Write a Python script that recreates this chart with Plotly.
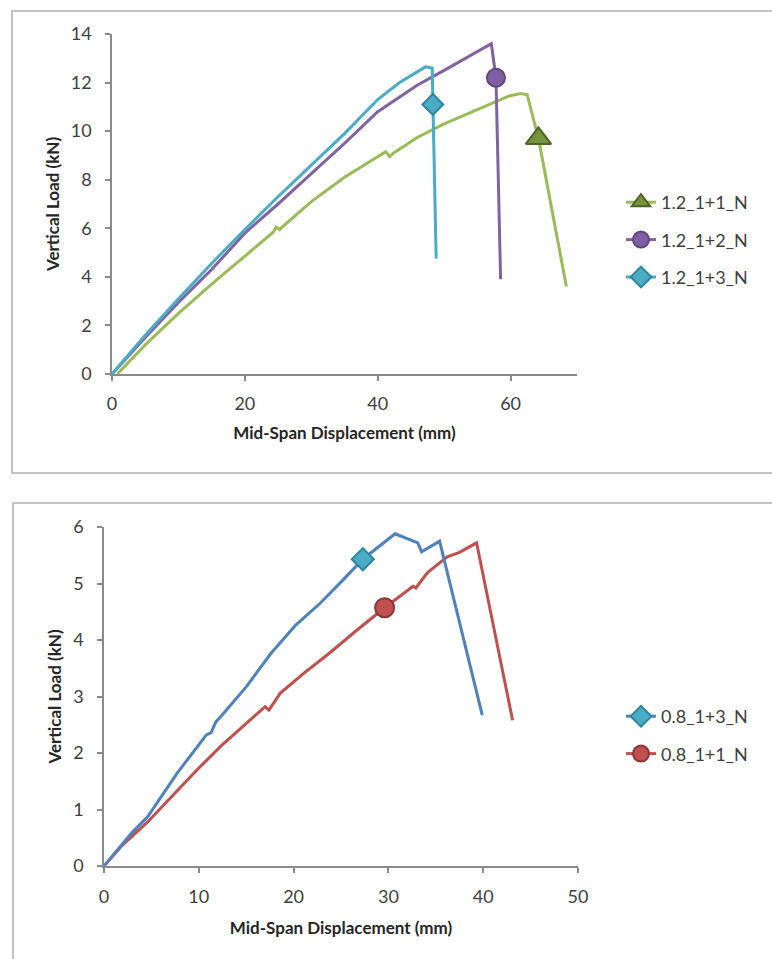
import plotly.graph_objects as go

# ---------------- Top panel data (1.2 series) ----------------
g_x = [0.8, 5, 10, 15, 20, 24.3, 24.7, 25.2, 30, 35, 41.2, 41.8, 42.4, 46, 50, 55, 59.8, 61.5, 62.5, 64.2, 68.4]
g_y = [0, 1.2, 2.5, 3.7, 4.85, 5.85, 6.05, 5.95, 7.1, 8.1, 9.15, 8.95, 9.1, 9.75, 10.3, 10.9, 11.45, 11.55, 11.5, 9.7, 3.6]
g_mark = (64.2, 9.7)

p_x = [0, 5, 10, 15, 20, 25, 30, 35, 40, 43.3, 46, 50, 54, 56, 57.1, 57.8, 58.5]
p_y = [0, 1.5, 2.95, 4.3, 5.8, 7.0, 8.25, 9.5, 10.8, 11.4, 11.9, 12.5, 13.1, 13.4, 13.6, 12.2, 3.9]
p_mark = (57.8, 12.2)

c_x = [0, 5, 10, 15, 20, 25, 30, 35, 40, 43.3, 46, 47.2, 48.2, 48.3, 48.8]
c_y = [0, 1.6, 3.1, 4.55, 5.95, 7.3, 8.6, 9.9, 11.3, 12.0, 12.45, 12.65, 12.6, 11.1, 4.75]
c_mark = (48.3, 11.1)

# ---------------- Bottom panel data (0.8 series) ----------------
b_x = [0, 1.5, 3, 4.6, 7.7, 10.8, 11.3, 11.8, 12.6, 15, 17.6, 20.2, 22.8, 25.2, 27.3, 30.7, 33.1, 33.5, 35.4, 39.9]
b_y = [0, 0.31, 0.6, 0.87, 1.64, 2.32, 2.36, 2.55, 2.7, 3.17, 3.76, 4.26, 4.65, 5.06, 5.43, 5.88, 5.72, 5.56, 5.75, 2.67]
b_mark = (27.3, 5.43)

r_x = [0, 2, 4.6, 7, 9.8, 12.5, 15, 16.6, 17.0, 17.4, 18.6, 21, 23.8, 26.5, 29.6, 32.6, 32.9, 34.1, 36.2, 37.5, 39.3, 43.1]
r_y = [0, 0.38, 0.78, 1.2, 1.7, 2.15, 2.52, 2.76, 2.82, 2.76, 3.06, 3.4, 3.77, 4.15, 4.57, 4.95, 4.92, 5.19, 5.47, 5.55, 5.72, 2.58]
r_mark = (29.6, 4.57)

W, H = 772, 959
FONT = "Lato"
TICK_COLOR = "#404040"
AXIS_COLOR = "#8a8a8a"

fig = go.Figure()


def add_series(xs, ys, mark, name, lc, mc, mlc, sym, msize, xa, ya, legend, rank):
    fig.add_trace(go.Scatter(x=xs, y=ys, mode="lines", line=dict(color=lc, width=3),
                             showlegend=False, xaxis=xa, yaxis=ya, hoverinfo="skip",
                             legendgroup=name))
    fig.add_trace(go.Scatter(x=[mark[0]], y=[mark[1]], mode="lines+markers", name=name,
                             line=dict(color=lc, width=3),
                             marker=dict(symbol=sym, size=msize, color=mc,
                                         line=dict(color=mlc, width=2)),
                             xaxis=xa, yaxis=ya, legend=legend, legendgroup=name,
                             legendrank=rank, cliponaxis=False))


add_series(g_x, g_y, g_mark, "1.2_1+1_N", "#9BBB59", "#77933C", "#4F6228", "triangle-up", 22, "x", "y", "legend", 1)
add_series(p_x, p_y, p_mark, "1.2_1+2_N", "#8064A2", "#7F5FA4", "#5F497A", "circle", 18, "x", "y", "legend", 2)
add_series(c_x, c_y, c_mark, "1.2_1+3_N", "#4BACC6", "#4BACC6", "#31859C", "diamond", 16, "x", "y", "legend", 3)

add_series(r_x, r_y, r_mark, "0.8_1+1_N", "#C0504D", "#C0504D", "#8C3836", "circle", 19, "x2", "y2", "legend2", 2)
add_series(b_x, b_y, b_mark, "0.8_1+3_N", "#4F81BD", "#4BACC6", "#31859C", "diamond", 17, "x2", "y2", "legend2", 1)


def px_x(p):
    return p / W


def px_y(p):
    return 1 - p / H


axis_common = dict(showline=True, linecolor=AXIS_COLOR, linewidth=1.5, ticks="outside",
                   ticklen=5, tickcolor=AXIS_COLOR, tickwidth=1.5, showgrid=False,
                   zeroline=False, tickfont=dict(family=FONT, size=18, color=TICK_COLOR),
                   fixedrange=True, automargin=False)
title_font = dict(family=FONT, size=17, color="#262626", weight="bold")

fig.update_layout(
    width=W, height=H, margin=dict(l=0, r=0, t=0, b=0, pad=0, autoexpand=False),
    paper_bgcolor="white", plot_bgcolor="white",
    xaxis=dict(domain=[px_x(112), px_x(577)], range=[0, 70], tick0=0, dtick=20, anchor="y",
               title=dict(text="Mid-Span Displacement (mm)", font=title_font, standoff=14),
               ticklabelstandoff=8, **axis_common),
    yaxis=dict(domain=[px_y(374), px_y(34)], range=[0, 14], tick0=0, dtick=2, anchor="x",
               title=dict(text="Vertical Load (kN)", font=title_font, standoff=7),
               ticklabelstandoff=10, **axis_common),
    xaxis2=dict(domain=[px_x(104), px_x(578)], range=[0, 50], tick0=0, dtick=10, anchor="y2",
                title=dict(text="Mid-Span Displacement (mm)", font=title_font, standoff=16),
                ticklabelstandoff=9, **axis_common),
    yaxis2=dict(domain=[px_y(866), px_y(527)], range=[0, 6], tick0=0, dtick=1, anchor="x2",
                title=dict(text="Vertical Load (kN)", font=title_font, standoff=7),
                ticklabelstandoff=10, **axis_common),
    legend=dict(x=px_x(621), y=px_y(184), xanchor="left", yanchor="top",
                font=dict(family=FONT, size=18, color=TICK_COLOR),
                bgcolor="rgba(0,0,0,0)", tracegroupgap=11, itemclick=False),
    legend2=dict(x=px_x(621), y=px_y(698), xanchor="left", yanchor="top",
                 font=dict(family=FONT, size=18, color=TICK_COLOR),
                 bgcolor="rgba(0,0,0,0)", tracegroupgap=11, itemclick=False),
    shapes=[
        dict(type="rect", xref="paper", yref="paper", x0=px_x(12), x1=1.05,
             y0=px_y(473), y1=px_y(11), line=dict(color="#c4c4c4", width=2),
             fillcolor="rgba(0,0,0,0)", layer="below"),
        dict(type="rect", xref="paper", yref="paper", x0=px_x(13), x1=1.05,
             y0=-0.05, y1=px_y(503), line=dict(color="#c4c4c4", width=2),
             fillcolor="rgba(0,0,0,0)", layer="below"),
    ],
)

fig.write_html("out.html")
